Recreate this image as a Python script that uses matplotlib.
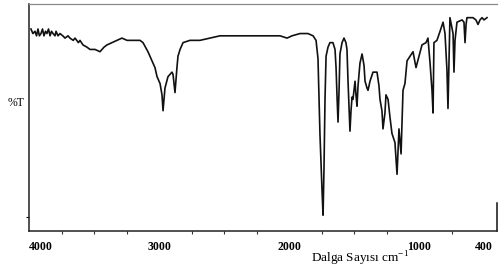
import matplotlib
matplotlib.use("Agg")
import matplotlib.pyplot as plt

plt.rcParams["mathtext.fontset"] = "custom"
plt.rcParams["mathtext.rm"] = "Liberation Serif"

# IR spectrum: wavenumber (cm-1) and %T (0 = bottom, 100 = top of frame)
wavenumber = [
    3985, 3970, 3954, 3942, 3931, 3920, 3908, 3896, 3885, 3873,
    3862, 3850, 3838, 3827, 3815, 3800, 3792, 3777, 3762, 3740,
    3723, 3700, 3685, 3660, 3646, 3620, 3608,
    3585, 3554, 3531, 3492, 3454, 3423, 3400, 3362, 3323, 3285,
    3246, 3200, 3146, 3123, 3085, 3046, 3031, 3015, 2992, 2977,
    2969, 2954, 2931, 2915, 2900, 2892, 2877, 2862, 2854, 2838,
    2815, 2762, 2685, 2608, 2531, 2415, 2300, 2185, 2069, 2015,
    1977, 1915, 1854, 1815, 1792, 1777, 1762, 1746, 1738, 1731,
    1723, 1715, 1700, 1685, 1662, 1646, 1638, 1631, 1623, 1615,
    1608, 1592, 1577, 1562, 1554, 1546, 1531, 1523, 1515, 1508,
    1500, 1492, 1485, 1477, 1469, 1454, 1438, 1423, 1415, 1400,
    1392, 1377, 1354, 1323, 1308, 1300, 1285, 1277, 1262, 1254,
    1238, 1223, 1208, 1185, 1169, 1154, 1138, 1123, 1108, 1092,
    1069, 1046, 1023, 1000, 977, 946, 931, 915, 900, 892,
    885, 862, 838, 815, 800, 785, 777, 769, 762, 738,
    731, 723, 708, 669, 654, 646, 638, 631, 585, 562,
    546, 531, 515, 500, 477,
]
transmittance = [
    89, 87, 88, 86, 89, 86, 87, 89, 86, 88,
    87, 89, 86, 88, 87, 86, 88, 86, 87, 86,
    85, 86, 85, 84, 85, 83, 84,
    82, 81, 80, 80, 79, 81, 82, 83, 84, 85,
    84, 84, 84, 83, 79, 74, 72, 68, 65, 60,
    53, 63, 68, 69, 70, 69, 61, 72, 77, 80,
    83, 84, 84, 85, 86, 86, 86, 86, 86, 85,
    86, 87, 87, 86, 84, 76, 43, 18, 7, 27,
    58, 77, 81, 83, 83, 80, 72, 60, 48, 62,
    78, 83, 85, 83, 80, 66, 44, 53, 59, 58,
    62, 66, 60, 55, 64, 74, 78, 73, 66, 63,
    62, 66, 70, 70, 64, 58, 53, 45, 52, 60,
    58, 50, 43, 39, 25, 45, 34, 62, 65, 75,
    77, 79, 72, 77, 82, 83, 85, 74, 62, 52,
    83, 84, 88, 92, 87, 71, 54, 75, 94, 87,
    70, 84, 92, 93, 92, 83, 91, 94, 94, 93,
    91, 93, 94, 93, 94,
]

tick_marks = [4000, 3750, 3500, 3250, 3000, 2750, 2500, 2250, 2000,
              1750, 1500, 1250, 1000, 750, 500]
label_pos = [4000, 3000, 2000, 1000, 500]
label_txt = ["4000", "3000", "2000", "1000", "400"]

fig = plt.figure(figsize=(5.0, 2.69), dpi=100)
ax = fig.add_axes([0.058, 0.141, 0.936, 0.844])
ax.plot(wavenumber, transmittance, color="#111111", lw=1.2)
ax.set_xlim(4000, 400)
ax.set_ylim(0, 100)

ax.set_xticks(tick_marks, minor=True)
ax.set_xticks(label_pos)
ax.set_xticklabels(label_txt, fontfamily="Liberation Serif",
                   fontweight="bold", fontsize=8.5)
ax.tick_params(axis="x", which="minor", direction="out", length=2.5,
               width=0.8, color="#333333")
ax.tick_params(axis="x", which="major", length=0, pad=7)
ax.get_xticklabels()[0].set_horizontalalignment("left")

ax.set_yticks([6])
ax.set_yticklabels([""])
ax.tick_params(axis="y", direction="out", length=2, width=0.8)

for s in ["left", "bottom"]:
    ax.spines[s].set_linewidth(1.1)
    ax.spines[s].set_color("#222222")
ax.spines["top"].set_color("#8a8a8a")
ax.spines["top"].set_linewidth(0.9)
ax.spines["right"].set_visible(False)
ax.axvline(400, ymin=0, ymax=0.125, color="#111111", lw=1.1, clip_on=False)

fig.text(0.032, 1 - 103 / 269, "%T", fontfamily="Liberation Serif",
         fontsize=8.5, ha="center", va="center")
fig.text(0.72, 0.024, "Dalga Sayısı cm$^{-1}$", fontfamily="Liberation Serif",
         fontsize=9.5, ha="center", va="baseline")

fig.savefig("out.png", dpi=100)
